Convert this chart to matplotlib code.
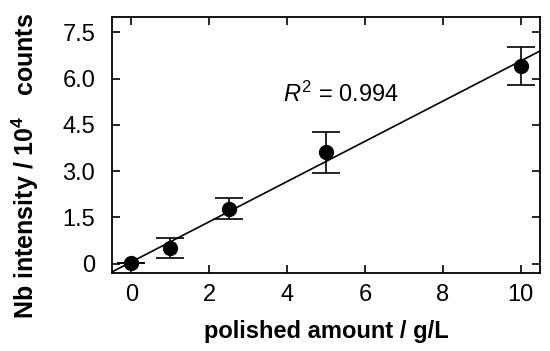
import numpy as np
import matplotlib
matplotlib.use("Agg")
import matplotlib.pyplot as plt

plt.rcParams["font.family"] = ["Liberation Sans", "DejaVu Sans"]
plt.rcParams["mathtext.fontset"] = "custom"
plt.rcParams["mathtext.rm"] = "Liberation Sans"
plt.rcParams["mathtext.it"] = "Liberation Sans:italic"
plt.rcParams["mathtext.bf"] = "Liberation Sans:bold"

# data
amount = [0, 1, 2.5, 5, 10]
intensity = [0.02, 0.51, 1.79, 3.61, 6.42]
err = [0.0, 0.31, 0.35, 0.67, 0.62]
yticks = [0, 1.5, 3.0, 4.5, 6.0, 7.5]
ytick_labels = ["0", "1.5", "3.0", "4.5", "6.0", "7.5"]
xticks = [0, 2, 4, 6, 8, 10]

fig = plt.figure(figsize=(5.5, 3.51), dpi=100)
ax = fig.add_axes([0.2036, 0.2222, 0.7782, 0.7294])

slope, intercept = np.polyfit(amount, intensity, 1)
xfit = np.array([-0.5, 10.5])
ax.plot(xfit, slope * xfit + intercept, color="black", lw=1.2)

ax.errorbar(amount, intensity, yerr=err, fmt="o", color="black",
            markersize=10, capsize=10, elinewidth=1.2, capthick=1.2)

ax.text(3.9, 5.5, r"$R^2$ = 0.994", fontsize=17, ha="left", va="center")

ax.set_xlim(-0.5, 10.5)
ax.set_ylim(-0.3, 8.0)
ax.set_xticks(xticks)
ax.set_yticks(yticks)
ax.set_yticklabels(ytick_labels)
ax.tick_params(direction="in", length=6, width=1.2, labelsize=17,
               top=True, right=True)
ax.tick_params(axis="x", pad=8)
ax.tick_params(axis="y", pad=12)
for sp in ax.spines.values():
    sp.set_linewidth(1.3)

ax.set_xlabel("polished amount / g/L", fontsize=17, fontweight="bold", labelpad=10)
ax.set_ylabel(r"Nb intensity / 10$^{\mathbf{4}}$   counts", fontsize=18,
              fontweight="bold")
ax.yaxis.set_label_coords(-0.165, 0.418)

fig.savefig("out.png", dpi=100)
